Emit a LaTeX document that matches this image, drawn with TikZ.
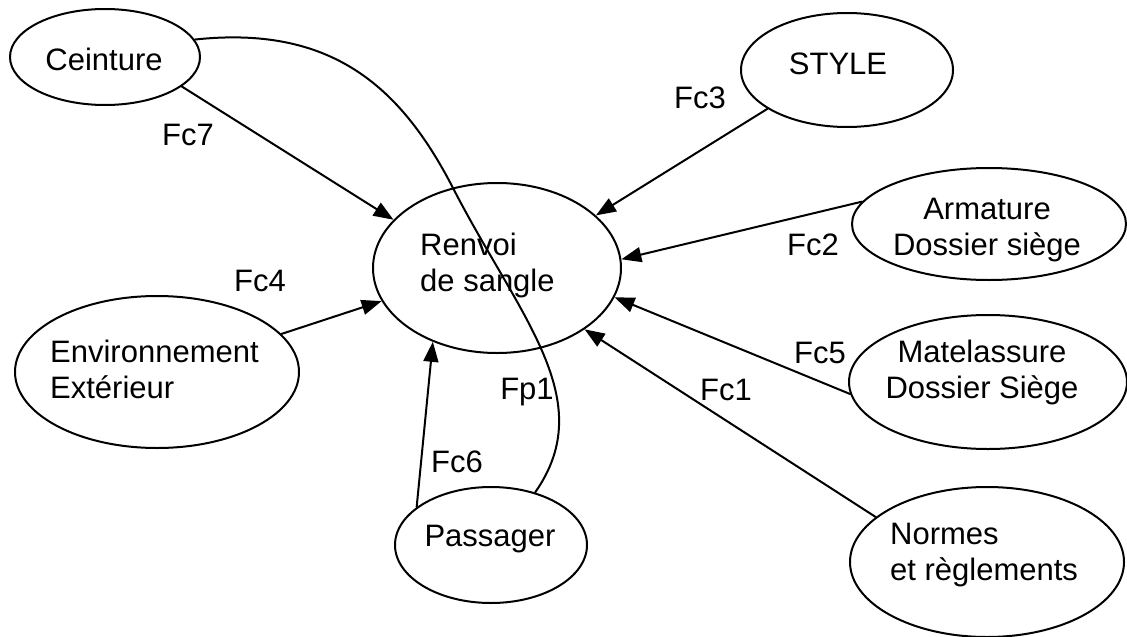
\documentclass[tikz,border=0pt]{standalone}
\usepackage{fontspec}
\setmainfont{Liberation Sans}
\usepackage{tikz}
\usetikzlibrary{arrows.meta}
\usetikzlibrary{shapes.geometric}
\usetikzlibrary{positioning}

\tikzset{
  bulle/.style={ellipse, draw, line width=2pt, inner sep=0pt},
  txt/.style={inner sep=0pt, font=\fontsize{31}{36}\selectfont},
  fleche/.style={->, line width=2pt},
  lien/.style={line width=2pt}
}

\begin{document}
\begin{tikzpicture}[x=1pt, y=-1pt, line cap=round, line join=round,
    >={Triangle[length=20pt, width=15pt]}]
  \useasboundingbox (0, 0) rectangle (1127, 637);
  %--- Renvoi de sangle
    \node[bulle, minimum width=248pt, minimum height=170pt] (renvoi) at (497, 268) {};
    \node[txt, anchor=base west, align=left] (renvoi-txt) at (420, 291) {Renvoi\\de sangle};
  %--- Ceinture
    \node[bulle, minimum width=190pt, minimum height=96pt] (ceinture) at (105, 57) {};
    \node[txt, anchor=base] (ceinture-txt) at (104, 70) {Ceinture};
  %--- STYLE
    \node[bulle, minimum width=212pt, minimum height=114pt] (style) at (847, 70) {};
    \node[txt, anchor=base] (style-txt) at (838, 74) {STYLE};
  %--- Armature
    \node[bulle, minimum width=274pt, minimum height=112pt] (armature) at (989, 224) {};
    \node[txt, anchor=base, align=center] (armature-txt) at (987, 255) {Armature\\Dossier siège};
  %--- Environnement
    \node[bulle, minimum width=284pt, minimum height=152pt] (environ) at (157, 372) {};
    \node[txt, anchor=base west, align=left] (environ-txt) at (50, 398) {Environnement\\Extérieur};
  %--- Matelassure
    \node[bulle, minimum width=278pt, minimum height=134pt] (matelas) at (988, 382) {};
    \node[txt, anchor=base, align=center] (matelas-txt) at (982, 398) {Matelassure\\Dossier Siège};
  %--- Passager
    \node[bulle, minimum width=192pt, minimum height=116pt] (passager) at (491, 545) {};
    \node[txt, anchor=base] (passager-txt) at (490, 546) {Passager};
  %--- Normes
    \node[bulle, minimum width=274pt, minimum height=150pt] (normes) at (987, 562) {};
    \node[txt, anchor=base west, align=left] (normes-txt) at (890, 580) {Normes\\et règlements};

  %--- Fc
    \draw[fleche] (ceinture.-21) -- (renvoi.155);
    \node[txt, anchor=base] (fc7) at (188, 145) {Fc7};
    \draw[fleche] (style.206) -- (renvoi.28);
    \node[txt, anchor=base] (fc3) at (700, 108) {Fc3};
    \draw[fleche] (armature.170) -- (renvoi.4);
    \node[txt, anchor=base] (fc2) at (813, 255) {Fc2};
    \draw[fleche] (environ.17) -- (renvoi.196);
    \node[txt, anchor=base] (fc4) at (260, 291) {Fc4};
    \draw[fleche] (matelas.185) -- (renvoi.-14);
    \node[txt, anchor=base] (fc5) at (820, 363) {Fc5};
    \draw[fleche] (normes.158) -- (renvoi.-35);
    \node[txt, anchor=base] (fc1) at (726, 400) {Fc1};
    \draw[fleche] (passager.153) -- (renvoi.-131);
    \node[txt, anchor=base] (fc6) at (457, 472) {Fc6};
  %--- Fp1
    \coordinate (croise) at (453, 188);
    \draw[lien] (ceinture.11) .. controls (330, 25) and (400, 85) .. (croise)
      .. controls (520, 318) and (600, 400) .. (passager.50);
    \node[txt, anchor=base] (fp1) at (527, 399) {Fp1};
\end{tikzpicture}
\end{document}
